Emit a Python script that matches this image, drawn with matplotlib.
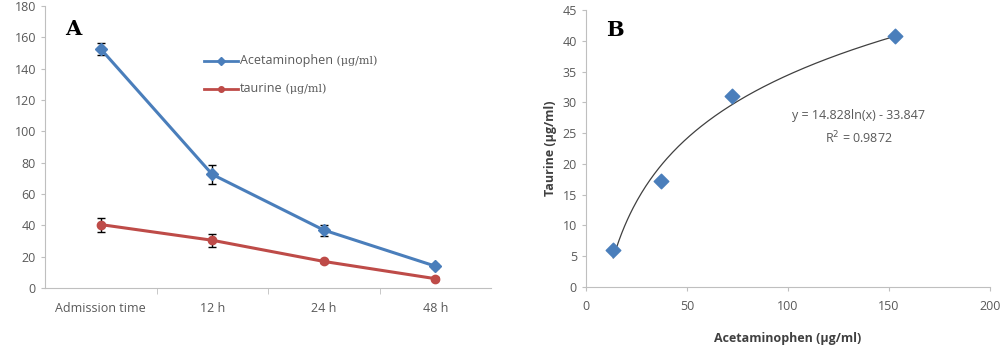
import numpy as np
import matplotlib
matplotlib.use("Agg")
import matplotlib.pyplot as plt
from matplotlib.offsetbox import TextArea, HPacker, AnchoredOffsetbox

# panel A data
times = ["Admission time", "12 h", "24 h", "48 h"]
acet = [152.5, 72.5, 37.0, 14.0]
acet_err = [4.0, 6.0, 3.5, 1.5]
taur = [40.5, 30.5, 17.0, 6.0]
taur_err = [4.5, 4.0, 1.0, 1.0]

# panel B data
acet_x = [13.5, 37.0, 72.5, 153.0]
taur_y = [6.0, 17.3, 31.1, 40.7]
fit_a, fit_b = 14.828, -33.847

blue = "#4A7EBB"
red = "#BE4B48"
grey_txt = "#595959"
spine_c = "#BFBFBF"

plt.rcParams["font.family"] = ["Open Sans", "DejaVu Sans"]

fig = plt.figure(figsize=(10, 3.45), dpi=100)
ax1 = fig.add_axes([0.045, 0.165, 0.446, 0.818])
ax2 = fig.add_axes([0.586, 0.168, 0.404, 0.803])

def style(ax):
    for s in ["top", "right"]:
        ax.spines[s].set_visible(False)
    for s in ["left", "bottom"]:
        ax.spines[s].set_color(spine_c)
    ax.tick_params(colors=grey_txt, labelsize=9, length=3, color=spine_c)

# A
xi = np.arange(len(times))
ax1.errorbar(xi, acet, yerr=acet_err, color=blue, lw=2.2, marker="D", ms=6,
             ecolor="black", elinewidth=1, capsize=3)
ax1.errorbar(xi, taur, yerr=taur_err, color=red, lw=2.2, marker="o", ms=6,
             ecolor="black", elinewidth=1, capsize=3)
ax1.set_xlim(-0.5, len(times) - 0.5)
ax1.set_ylim(0, 180)
ax1.set_yticks(range(0, 181, 20))
ax1.set_xticks(xi)
ax1.set_xticklabels(times)
ax1.set_xticks(np.arange(0.5, len(times) - 0.5, 1), minor=True)
style(ax1)
ax1.tick_params(axis="x", which="major", length=0, pad=10)
ax1.tick_params(axis="x", which="minor", length=4, color=spine_c)
ax1.text(0.045, 0.955, "A", transform=ax1.transAxes, fontsize=15, fontweight="bold",
         family="DejaVu Serif", va="top")

# hand-made legend
for yv, col, mk, name in [(145, blue, "D", "Acetaminophen"), (127, red, "o", "taurine")]:
    ax1.plot([0.93, 1.08, 1.23], [yv] * 3, color=col, lw=2, marker=mk, ms=4, markevery=[1])
    t1 = TextArea(name, textprops=dict(color=grey_txt, fontsize=9))
    t2 = TextArea(" (\u03bcg/ml)", textprops=dict(color=grey_txt, fontsize=8, family="DejaVu Serif"))
    box = HPacker(children=[t1, t2], align="baseline", pad=0, sep=0)
    ab = AnchoredOffsetbox(loc="center left", child=box, pad=0, borderpad=0, frameon=False,
                           bbox_to_anchor=(1.245, yv), bbox_transform=ax1.transData)
    ax1.add_artist(ab)

# B
xf = np.linspace(min(acet_x), max(acet_x), 200)
ax2.plot(xf, fit_a * np.log(xf) + fit_b, color="#404040", lw=0.9)
ax2.scatter(acet_x, taur_y, marker="D", s=55, color=blue, zorder=3)
ax2.set_xlim(0, 200)
ax2.set_ylim(0, 45)
ax2.set_xticks(range(0, 201, 50))
ax2.set_yticks(range(0, 46, 5))
style(ax2)
ax2.tick_params(axis="x", pad=6)
ax2.set_xlabel("Acetaminophen (\u03bcg/ml)", color="#404040", fontsize=9, fontweight="bold",
               labelpad=14)
ax2.set_ylabel("Taurine (\u03bcg/ml)", color="#404040", fontsize=9, fontweight="bold")
ax2.text(0.05, 0.965, "B", transform=ax2.transAxes, fontsize=15, fontweight="bold",
         family="DejaVu Serif", va="top")
ax2.text(0.675, 0.575, "y = 14.828ln(x) - 33.847\nR$^2$ = 0.9872", transform=ax2.transAxes,
         ha="center", va="center", fontsize=9, color=grey_txt, linespacing=1.6)

fig.savefig("out.png", dpi=100)
